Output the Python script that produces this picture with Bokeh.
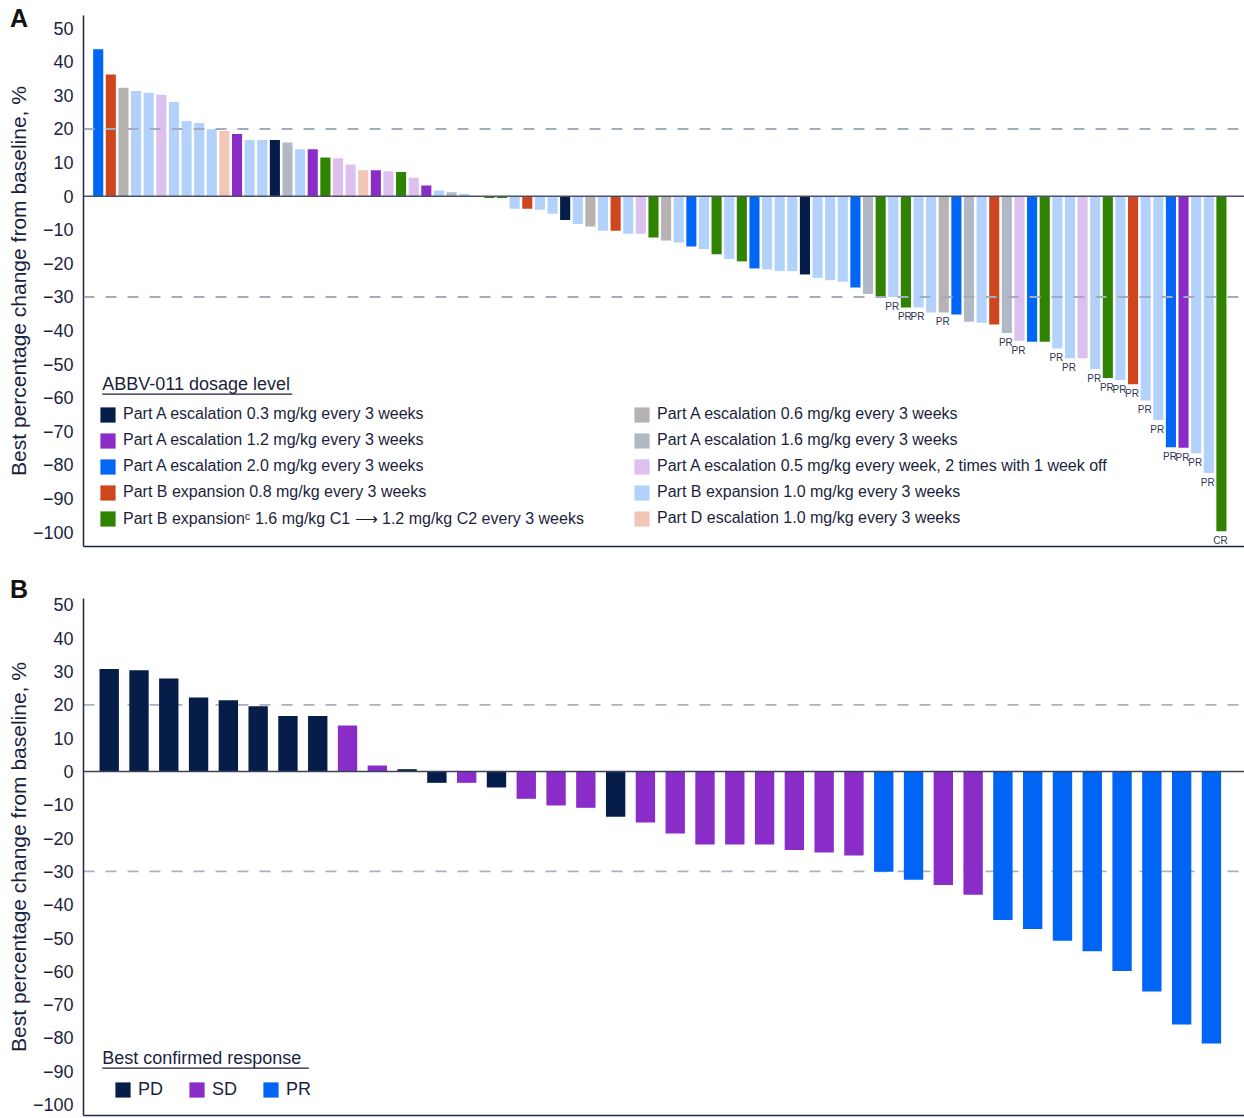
from bokeh.plotting import figure
from bokeh.models import (ColumnDataSource, Span, Label, Legend, LegendItem,
                          BoxAnnotation, FixedTicker, Range1d, Div)
from bokeh.layouts import column
from bokeh.embed import file_html
from bokeh.resources import INLINE
from bokeh.core.properties import value

FONT = "Liberation Sans"
TXT = "#1b1f3d"

# ---------------- Panel A data ----------------
dose_keys = ["A0.3", "A1.2", "A2.0", "B0.8", "B1.6", "A0.6", "A1.6", "A0.5w", "B1.0", "D1.0"]
dose_labels = [
    "Part A escalation 0.3 mg/kg every 3 weeks",
    "Part A escalation 1.2 mg/kg every 3 weeks",
    "Part A escalation 2.0 mg/kg every 3 weeks",
    "Part B expansion 0.8 mg/kg every 3 weeks",
    "Part B expansion\u1d9c 1.6 mg/kg C1 \u27f6 1.2 mg/kg C2 every 3 weeks",
    "Part A escalation 0.6 mg/kg every 3 weeks",
    "Part A escalation 1.6 mg/kg every 3 weeks",
    "Part A escalation 0.5 mg/kg every week, 2 times with 1 week off",
    "Part B expansion 1.0 mg/kg every 3 weeks",
    "Part D escalation 1.0 mg/kg every 3 weeks",
]
dose_colors = ["#061d49", "#8a2dc8", "#0066f6", "#cf461e", "#2f8300",
               "#b8b3b3", "#b2b9c6", "#dcc0ee", "#b3d2fb", "#f1c6b6"]

dose_A = [
    "A2.0", "B0.8", "A0.6", "B1.0", "B1.0", "A0.5w", "B1.0", "B1.0", "B1.0", "B1.0",
    "D1.0", "A1.2", "B1.0", "B1.0", "A0.3", "A1.6", "B1.0", "A1.2", "B1.6", "A0.5w",
    "A0.5w", "D1.0", "A1.2", "A0.5w", "B1.6", "A0.5w", "A1.2", "B1.0", "A1.6", "B1.0",
    "B1.6", "B1.6", "B1.6", "B1.0", "B0.8", "B1.0", "B1.0", "A0.3", "B1.0", "A0.6",
    "B1.0", "B0.8", "B1.0", "A0.5w", "B1.6", "A0.6", "B1.0", "A2.0", "B1.0", "B1.6",
    "B1.0", "B1.6", "A2.0", "B1.0", "B1.0", "B1.0", "A0.3", "B1.0", "B1.0", "B1.0",
    "A2.0", "A1.6", "B1.6", "B1.0", "B1.6", "B1.0", "B1.0", "A0.6", "A2.0", "A1.6",
    "B1.0", "B0.8", "A1.6", "A0.5w", "A2.0", "B1.6", "B1.0", "B1.0", "A0.5w", "B1.0",
    "B1.6", "B1.0", "B0.8", "B1.0", "B1.0", "A2.0", "A1.2", "B1.0", "B1.0", "B1.6",
]
change_A = [
    43.7, 36.2, 32.3, 31.3, 30.8, 30.2, 28.0, 22.4, 21.8, 19.9,
    19.4, 18.5, 16.7, 16.7, 16.7, 16.0, 14.0, 14.0, 11.5, 11.3,
    9.4, 7.7, 7.7, 7.4, 7.2, 5.5, 3.2, 1.7, 1.2, 0.7,
    -0.2, -0.5, -0.5, -3.7, -3.7, -4.0, -5.2, -7.1, -8.3, -9.0,
    -10.3, -10.3, -11.2, -11.2, -12.3, -13.2, -13.8, -15.0, -15.7, -17.3,
    -18.7, -19.4, -21.5, -21.8, -22.3, -22.3, -23.3, -24.3, -25.0, -25.5,
    -27.2, -29.1, -29.7, -30.0, -33.1, -33.1, -34.6, -34.6, -35.2, -37.4,
    -37.7, -38.2, -40.7, -43.0, -43.3, -43.3, -45.3, -48.2, -48.2, -51.4,
    -54.1, -54.7, -56.0, -60.8, -66.6, -74.7, -74.9, -76.5, -82.4, -99.7,
]
response_A = [""] * 63 + [
    "PR", "PR", "PR", "", "PR", "", "", "", "", "PR",
    "PR", "", "", "PR", "PR", "", "PR", "PR", "PR", "PR",
    "PR", "PR", "PR", "PR", "PR", "PR", "CR",
]

# ---------------- Panel B data ----------------
resp_keys = ["PD", "SD", "PR"]
resp_colors = ["#061d49", "#8a2dc8", "#0064f5"]
response_B = [
    "PD", "PD", "PD", "PD", "PD", "PD", "PD", "PD", "SD", "SD",
    "PD", "PD", "SD", "PD", "SD", "SD", "SD", "PD", "SD", "SD",
    "SD", "SD", "SD", "SD", "SD", "SD", "PR", "PR", "SD", "SD",
    "PR", "PR", "PR", "PR", "PR", "PR", "PR", "PR",
]
change_B = [
    30.8, 30.4, 27.9, 22.2, 21.4, 19.6, 16.7, 16.7, 13.8, 1.8,
    0.7, -3.4, -3.4, -4.8, -8.2, -10.2, -10.9, -13.6, -15.3, -18.6,
    -21.9, -21.9, -21.9, -23.6, -24.3, -25.2, -30.1, -32.5, -34.1, -37.0,
    -44.6, -47.3, -50.8, -54.0, -59.9, -66.1, -76.0, -81.7,
]

# ---------------- shared axis data ----------------
y_ticks = [50, 40, 30, 20, 10, 0, -10, -20, -30, -40, -50, -60, -70, -80, -90, -100]
y_tick_labels = ["50", "40", "30", "20", "10", "0", "\u221210", "\u221220", "\u221230",
                 "\u221240", "\u221250", "\u221260", "\u221270", "\u221280", "\u221290",
                 "\u2212100"]
thresholds = [20, -30]
panel_letters = ["A", "B"]


def style(p):
    p.grid.visible = False
    p.outline_line_color = None
    p.background_fill_color = "white"
    p.border_fill_alpha = 0
    xa = p.xaxis[0]
    xa.ticker = FixedTicker(ticks=[])
    xa.major_label_text_font_size = "0px"
    xa.major_tick_line_color = None
    xa.minor_tick_line_color = None
    xa.major_label_standoff = 0
    xa.axis_line_color = "#1f2547"
    xa.axis_line_width = 1.5
    ya = p.yaxis[0]
    ya.ticker = FixedTicker(ticks=y_ticks)
    ya.major_label_overrides = dict(zip(y_ticks, y_tick_labels))
    ya.major_label_text_font = FONT
    ya.major_label_text_font_size = "18px"
    ya.major_label_text_color = TXT
    ya.major_label_standoff = 10
    ya.major_tick_line_color = None
    ya.minor_tick_line_color = None
    ya.major_tick_out = 0
    ya.major_tick_in = 0
    ya.axis_line_color = "#1f2547"
    ya.axis_line_width = 1.5
    ya.axis_label = "Best percentage change from baseline, %"
    ya.axis_label_text_font = FONT
    ya.axis_label_text_font_size = "21px"
    ya.axis_label_text_font_style = "normal"
    ya.axis_label_text_color = TXT
    ya.axis_label_standoff = 0


def legend(items, loc, orient, size, spacing, standoff):
    return Legend(items=items, location=loc, orientation=orient,
                  glyph_width=19, glyph_height=19, label_height=20,
                  label_standoff=standoff, spacing=spacing, padding=0, margin=0,
                  border_line_color=None, background_fill_alpha=0,
                  label_text_font=FONT, label_text_font_size=size,
                  label_text_color=TXT)


def title_with_underline(p, text, x, y, x_end, y_line):
    p.add_layout(Label(x=x, y=y, x_units="screen", y_units="screen", text=text,
                       text_font=FONT, text_font_size="18px", text_color=TXT,
                       text_baseline="alphabetic"))
    p.add_layout(BoxAnnotation(left=x, right=x_end, top=y_line, bottom=y_line - 1.3,
                               left_units="screen", right_units="screen",
                               top_units="screen", bottom_units="screen",
                               fill_color=TXT, fill_alpha=1, line_color=None))


def letter(text, top):
    return Div(text=text, width=40, height=0, margin=0,
               styles={"position": "relative", "left": "10px", "top": top,
                       "z-index": "5", "overflow": "visible",
                       "font-family": FONT, "font-size": "25px",
                       "font-weight": "bold", "color": "#111111",
                       "line-height": "25px"})


# ---------------- Panel A ----------------
pA = figure(width=1244, height=560, x_range=Range1d(-0.165, 91.83),
            y_range=Range1d(-104.26, 53.78), output_backend="svg",
            toolbar_location=None, min_border_left=83, min_border_right=0,
            min_border_top=15, min_border_bottom=14)
style(pA)

items_A = []
for key, lab, col in zip(dose_keys, dose_labels, dose_colors):
    idx = [i for i, d in enumerate(dose_A) if d == key]
    src = ColumnDataSource(dict(x=[i + 1 for i in idx], top=[change_A[i] for i in idx]))
    r = pA.vbar(x="x", top="top", width=0.8, source=src, fill_color=col, line_color=None)
    items_A.append(LegendItem(label=lab, renderers=[r]))

for t in thresholds:
    pA.add_layout(Span(location=t, dimension="width", line_color="#a3abbe",
                       line_width=2, line_dash="11 11"))
pA.add_layout(Span(location=0, dimension="width", line_color="#4a5169", line_width=1.6))

lab_idx = [i for i, r in enumerate(response_A) if r]
srcL = ColumnDataSource(dict(x=[i + 1 for i in lab_idx], y=[change_A[i] for i in lab_idx],
                             t=[response_A[i] for i in lab_idx]))
pA.text(x="x", y="y", text="t", source=srcL, text_font=value(FONT),
        text_font_size="10px", text_color="#2e3450", text_align="center",
        text_baseline="top", y_offset=4, x_offset=-1)

pA.add_layout(legend(items_A[:5], (15, 18), "vertical", "16px", 6, 6))
pA.add_layout(legend(items_A[5:], (549, 18), "vertical", "16px", 6, 6))
title_with_underline(pA, "ABBV-011 dosage level", 18.7, 163, 208.7, 153)

# ---------------- Panel B ----------------
pB = figure(width=1244, height=558, x_range=Range1d(0.137, 39.11),
            y_range=Range1d(-103.3, 51.95), output_backend="svg",
            toolbar_location=None, min_border_left=83, min_border_right=0,
            min_border_top=38, min_border_bottom=3)
style(pB)

for t in thresholds:
    pB.add_layout(Span(location=t, dimension="width", line_color="#aab1c2",
                       line_width=1.8, line_dash="11 11", level="underlay"))

items_B = []
for key, col in zip(resp_keys, resp_colors):
    idx = [i for i, d in enumerate(response_B) if d == key]
    src = ColumnDataSource(dict(x=[i + 1 for i in idx], top=[change_B[i] for i in idx]))
    r = pB.vbar(x="x", top="top", width=0.65, source=src, fill_color=col, line_color=None)
    items_B.append(LegendItem(label=key, renderers=[r]))

pB.add_layout(Span(location=0, dimension="width", line_color="#3b4259", line_width=1.5))
pB.add_layout(legend(items_B, (30, 15), "horizontal", "18px", 24, 6))
title_with_underline(pB, "Best confirmed response", 18.7, 58, 225.3, 48)

layout = column(letter(panel_letters[0], "6px"), pA,
                letter(panel_letters[1], "17px"), pB, spacing=0)
open("out.html", "w").write(file_html(layout, INLINE))
